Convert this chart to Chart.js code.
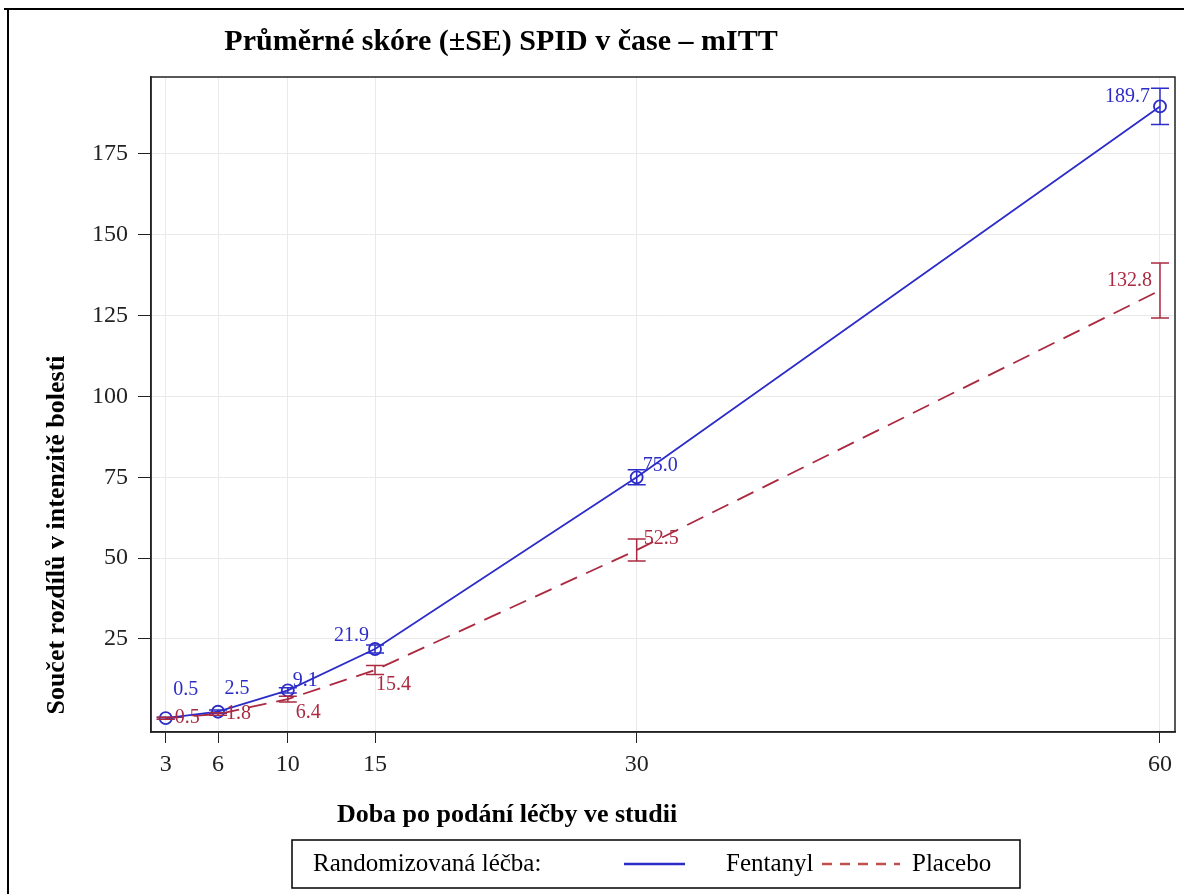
<!DOCTYPE html>
<html>
<head>
<meta charset="utf-8">
<script src="https://cdn.jsdelivr.net/npm/chart.js@4/dist/chart.umd.min.js"></script>
<style>
  body { margin: 0; background: #fff; }
</style>
</head>
<body>
<canvas id="graf" width="1184" height="894"></canvas>
<script>
// data vyčtená z grafu
const casy = [3, 6, 10, 15, 30, 60];
const fentanyl = [0.5, 2.5, 9.1, 21.9, 75.0, 189.7];
const fentanylSE = [0.3, 0.5, 0.8, 1.2, 2.3, 5.6];
const placebo = [0.5, 1.8, 6.4, 15.4, 52.5, 132.8];
const placeboSE = [0.3, 0.4, 0.9, 1.4, 3.4, 8.5];
const yTicks = [25, 50, 75, 100, 125, 150, 175];

const MODRA = '#2c2cc8';
const CERVENA = '#ab2a40';
const PISMO = '"Liberation Serif", "Times New Roman", serif';

// umístění popisků vůči bodu [dx, dy, zarovnání]
const popiskyF = [[20, -28, 'center'], [19, -23, 'center'], [5, -10, 'left'], [-6, -13, 'right'], [6, -12, 'left'], [-10, -10, 'right']];
const popiskyP = [[9, 0, 'left'], [8, 0, 'left'], [8, 14, 'left'], [1, 15, 'left'], [7, -11, 'left'], [-8, -10, 'right']];

Chart.defaults.font.family = PISMO;

const chybovePlugin = {
  id: 'chyby',
  afterDatasetsDraw(chart) {
    const ctx = chart.ctx;
    const x = chart.scales.x, y = chart.scales.y;
    const sady = [
      { hodnoty: fentanyl, se: fentanylSE, barva: MODRA, pop: popiskyF },
      { hodnoty: placebo, se: placeboSE, barva: CERVENA, pop: popiskyP }
    ];
    ctx.save();
    sady.forEach(s => {
      ctx.strokeStyle = s.barva;
      ctx.lineWidth = 1.5;
      s.hodnoty.forEach((v, i) => {
        const px = x.getPixelForValue(casy[i]);
        const y1 = y.getPixelForValue(v - s.se[i]);
        const y2 = y.getPixelForValue(v + s.se[i]);
        ctx.beginPath();
        ctx.moveTo(px, y1); ctx.lineTo(px, y2);
        ctx.moveTo(px - 9, y1); ctx.lineTo(px + 9, y1);
        ctx.moveTo(px - 9, y2); ctx.lineTo(px + 9, y2);
        ctx.stroke();
      });
      ctx.fillStyle = s.barva;
      ctx.font = '20px ' + PISMO;
      ctx.textBaseline = 'middle';
      s.hodnoty.forEach((v, i) => {
        const p = s.pop[i];
        ctx.textAlign = p[2];
        ctx.fillText(v.toFixed(1), x.getPixelForValue(casy[i]) + p[0], y.getPixelForValue(v) + p[1]);
      });
    });
    ctx.restore();
  },
  afterDraw(chart) {
    const ctx = chart.ctx;
    const a = chart.chartArea;
    ctx.save();
    // rámeček obrázku
    ctx.strokeStyle = '#000';
    ctx.lineWidth = 2;
    ctx.beginPath();
    ctx.moveTo(4, 9); ctx.lineTo(1184, 9);
    ctx.moveTo(8, 9); ctx.lineTo(8, 894);
    ctx.stroke();
    // horní a pravá strana plochy grafu
    ctx.strokeStyle = '#222';
    ctx.lineWidth = 1.5;
    ctx.strokeRect(a.left, a.top, a.right - a.left, a.bottom - a.top);

    ctx.fillStyle = '#000';
    ctx.textBaseline = 'middle';
    ctx.textAlign = 'center';
    ctx.font = 'bold 30px ' + PISMO;
    ctx.fillText('Průměrné skóre (±SE) SPID v čase – mITT', 501, 42);
    ctx.font = 'bold 26px ' + PISMO;
    ctx.fillText('Doba po podání léčby ve studii', 507, 815);
    ctx.save();
    ctx.translate(57, 535);
    ctx.rotate(-Math.PI / 2);
    ctx.font = 'bold 26px ' + PISMO;
    ctx.fillText('Součet rozdílů v intenzitě bolesti', 0, 0);
    ctx.restore();

    // legenda
    ctx.strokeStyle = '#000';
    ctx.lineWidth = 1.5;
    ctx.strokeRect(292, 840, 728, 48);
    ctx.font = '25px ' + PISMO;
    ctx.textAlign = 'left';
    ctx.fillText('Randomizovaná léčba:', 313, 864);
    ctx.fillText('Fentanyl', 726, 864);
    ctx.fillText('Placebo', 912, 864);
    ctx.lineWidth = 2.5;
    ctx.strokeStyle = MODRA;
    ctx.beginPath(); ctx.moveTo(624, 864); ctx.lineTo(685, 864); ctx.stroke();
    ctx.strokeStyle = '#c0504d';
    ctx.setLineDash([10, 8]);
    ctx.beginPath(); ctx.moveTo(822, 864); ctx.lineTo(900, 864); ctx.stroke();
    ctx.restore();
  }
};

new Chart(document.getElementById('graf'), {
  type: 'line',
  data: {
    datasets: [
      {
        label: 'Fentanyl',
        data: casy.map((c, i) => ({ x: c, y: fentanyl[i] })),
        borderColor: MODRA,
        borderWidth: 1.8,
        pointStyle: 'circle',
        pointRadius: 6,
        pointBorderWidth: 1.8,
        pointBorderColor: MODRA,
        pointBackgroundColor: 'rgba(0,0,0,0)',
        tension: 0
      },
      {
        label: 'Placebo',
        data: casy.map((c, i) => ({ x: c, y: placebo[i] })),
        borderColor: CERVENA,
        borderWidth: 1.8,
        borderDash: [18, 10],
        pointRadius: 0,
        tension: 0
      }
    ]
  },
  options: {
    responsive: false,
    animation: false,
    devicePixelRatio: 1,
    layout: { padding: { top: 77, right: 9, left: 0, bottom: 0 } },
    plugins: { legend: { display: false }, title: { display: false }, tooltip: { enabled: false } },
    scales: {
      x: {
        type: 'linear',
        min: 2.157,
        max: 60.86,
        afterBuildTicks: s => { s.ticks = casy.map(v => ({ value: v })); },
        afterFit: s => { s.height = 162; },
        ticks: { color: '#222', font: { size: 24 }, padding: 7, maxRotation: 0 },
        grid: { color: '#e9e9e9', tickColor: '#222', tickLength: 11, lineWidth: 1 },
        border: { color: '#222', width: 1.5 }
      },
      y: {
        min: -3.77,
        max: 198.8,
        afterBuildTicks: s => { s.ticks = yTicks.map(v => ({ value: v })); },
        afterFit: s => { s.width = 151; },
        ticks: { color: '#222', font: { size: 24 }, padding: 10 },
        grid: { color: '#e9e9e9', tickColor: '#222', tickLength: 13, lineWidth: 1 },
        border: { color: '#222', width: 1.5 }
      }
    }
  },
  plugins: [chybovePlugin]
});
</script>
</body>
</html>
